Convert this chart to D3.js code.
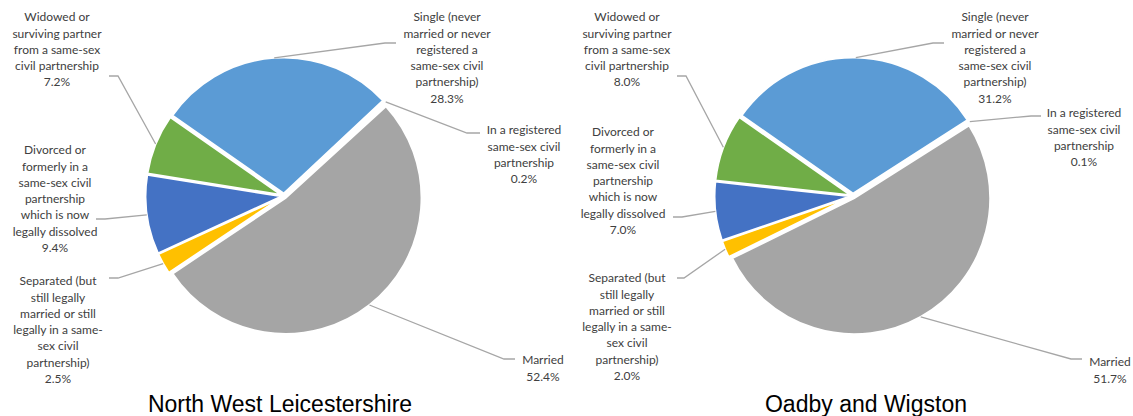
<!DOCTYPE html>
<html>
<head>
<meta charset="utf-8">
<script src="https://cdn.jsdelivr.net/npm/d3@7"></script>
<style>
  body { margin: 0; background: #fff; }
  svg { display: block; }
</style>
</head>
<body>
<svg id="chart" width="1133" height="416"></svg>
<script>
// Marital and civil partnership status, share of residents (%)
const categories = [
  "Single (never married or never registered a same-sex civil partnership)",
  "In a registered same-sex civil partnership",
  "Married",
  "Separated (but still legally married or still legally in a same-sex civil partnership)",
  "Divorced or formerly in a same-sex civil partnership which is now legally dissolved",
  "Widowed or surviving partner from a same-sex civil partnership"
];
// Category names as they wrap inside the data labels
const labelLines = [
  ["Single (never", "married or never", "registered a", "same-sex civil", "partnership)"],
  ["In a registered", "same-sex civil", "partnership"],
  ["Married"],
  ["Separated (but", "still legally", "married or still", "legally in a same-", "sex civil", "partnership)"],
  ["Divorced or", "formerly in a", "same-sex civil", "partnership", "which is now", "legally dissolved"],
  ["Widowed or", "surviving partner", "from a same-sex", "civil partnership"]
];
const areaNames = ["North West Leicestershire", "Oadby and Wigston"];
const northWestLeicestershire = [28.3, 0.2, 52.4, 2.5, 9.4, 7.2];
const oadbyAndWigston = [31.2, 0.1, 51.7, 2.0, 7.0, 8.0];

// Styling
const sliceColors = ["#5B9BD5", "#ED7D31", "#A5A5A5", "#FFC000", "#4472C4", "#70AD47"];
const labelColor = "#404040";
const leaderColor = "#A6A6A6";

// Layout of each pie and its data labels:
// x = label centre, y = first line centre, sx/sy = leader start beside the text, ex = leader elbow x
const panels = [
  {
    name: areaNames[0], values: northWestLeicestershire, cx: 284, cy: 196, titleX: 280,
    labels: [
      { x: 447, y: 17,  sx: 396, sy: 43,  ex: 385 },
      { x: 524, y: 130, sx: 480, sy: 133, ex: 467 },
      { x: 543, y: 360, sx: 515, sy: 359, ex: 504 },
      { x: 58,  y: 281, sx: 109, sy: 278, ex: 118 },
      { x: 55,  y: 150, sx: 96,  sy: 219, ex: 105 },
      { x: 57,  y: 17,  sx: 109, sy: 76,  ex: 118 }
    ]
  },
  {
    name: areaNames[1], values: oadbyAndWigston, cx: 853, cy: 196, titleX: 866,
    labels: [
      { x: 995,  y: 17,  sx: 944,  sy: 43,  ex: 933 },
      { x: 1084, y: 113, sx: 1041, sy: 116, ex: 1031 },
      { x: 1110, y: 362, sx: 1082, sy: 359, ex: 1071 },
      { x: 627,  y: 278, sx: 677,  sy: 278, ex: 684 },
      { x: 623,  y: 132, sx: 673,  sy: 217, ex: 682 },
      { x: 627,  y: 17,  sx: 677,  sy: 76,  ex: 686 }
    ]
  }
];

const radius = 136;
const explode = 2.5;
const lineStep = 16.3;
const deg = Math.PI / 180;
const fmt = d3.format(".1f");

const svg = d3.select("#chart");

const pie = d3.pie()
  .sort(null)
  .value(d => d)
  .startAngle(-55 * deg)
  .endAngle(305 * deg);

const arc = d3.arc().innerRadius(0).outerRadius(radius);

panels.forEach(panel => {
  const arcs = pie(panel.values);
  const g = svg.append("g").attr("transform", `translate(${panel.cx},${panel.cy})`);

  const mid = d => (d.startAngle + d.endAngle) / 2;

  // Slices, each pulled slightly out from the centre
  g.selectAll("path.slice")
    .data(arcs)
    .join("path")
    .attr("class", "slice")
    .attr("d", arc)
    .attr("fill", (d, i) => sliceColors[i])
    .attr("stroke", "#fff")
    .attr("stroke-width", 2)
    .attr("stroke-linejoin", "miter")
    .attr("transform", d => `translate(${Math.sin(mid(d)) * explode},${-Math.cos(mid(d)) * explode})`);

  // Leader lines from each label to the rim of its slice
  const rimR = radius + explode;
  svg.append("g").selectAll("polyline")
    .data(arcs)
    .join("polyline")
    .attr("points", (d, i) => {
      const L = panel.labels[i];
      const px = panel.cx + Math.sin(mid(d)) * rimR;
      const py = panel.cy - Math.cos(mid(d)) * rimR;
      return `${L.sx},${L.sy} ${L.ex},${L.sy} ${px},${py}`;
    })
    .attr("fill", "none")
    .attr("stroke", leaderColor)
    .attr("stroke-width", 1.3);

  // Data labels: category name + percentage
  const lg = svg.append("g")
    .attr("font-family", "Lato, 'Open Sans', sans-serif")
    .attr("font-size", 12)
    .attr("fill", labelColor)
    .attr("text-anchor", "middle");

  arcs.forEach((d, i) => {
    const L = panel.labels[i];
    const lines = labelLines[i].concat([fmt(d.data) + "%"]);
    const t = lg.append("text");
    lines.forEach((s, k) => {
      t.append("tspan")
        .attr("x", L.x)
        .attr("y", L.y + k * lineStep)
        .attr("dy", "0.35em")
        .text(s);
    });
  });

  // Area title
  svg.append("text")
    .attr("x", panel.titleX)
    .attr("y", 412)
    .attr("text-anchor", "middle")
    .attr("font-family", "'Liberation Sans', Arial, sans-serif")
    .attr("font-size", 23)
    .attr("fill", "#000")
    .text(panel.name);
});
</script>
</body>
</html>
